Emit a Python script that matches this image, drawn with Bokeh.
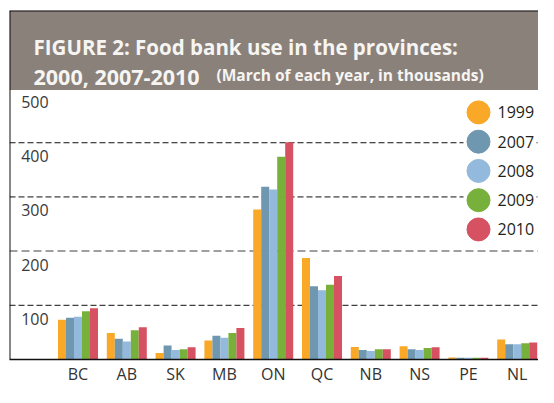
from bokeh.plotting import figure
from bokeh.models import (Range1d, ColumnDataSource, Span, BoxAnnotation, Label,
                          FixedTicker)
from bokeh.transform import dodge
from bokeh.core.properties import value
from bokeh.embed import file_html
from bokeh.resources import INLINE

# ---------------- data (thousands of people, March of each year) ----------------
provinces = ["BC", "AB", "SK", "MB", "ON", "QC", "NB", "NS", "PE", "NL"]
years = ["1999", "2007", "2008", "2009", "2010"]
v1999 = [73.5, 49.0, 12.0, 35.0, 277.0, 187.5, 23.0, 24.5, 3.5, 37.0]
v2007 = [77.0, 38.5, 26.0, 44.0, 319.0, 135.0, 17.5, 19.0, 3.0, 28.0]
v2008 = [79.0, 33.0, 17.5, 40.0, 313.5, 128.0, 15.8, 17.5, 3.0, 28.0]
v2009 = [89.0, 54.0, 19.0, 49.0, 374.0, 138.0, 19.0, 21.0, 3.0, 30.0]
v2010 = [94.5, 59.5, 22.8, 58.0, 401.0, 154.0, 19.0, 22.8, 3.0, 31.5]
series = [v1999, v2007, v2008, v2009, v2010]
colors = ["#f9a828", "#6f97b0", "#93b9dd", "#78b03c", "#d65262"]
y_ticks = [100, 200, 300, 400, 500]
y_tick_labels = ["100", "200", "300", "400", "500"]

title_line1 = "FIGURE 2: Food bank use in the provinces:"
title_line2a = "2000, 2007-2010"
title_line2b = "(March of each year, in thousands)"

# ---------------- layout (canvas pixels -> data units) ----------------
W, H = 538, 387
B_L, B_T, B_B = 9, 10, 26
FRAME_BOTTOM = H - B_B
PITCH = 48.8            # px per category
PX_PER_UNIT = 0.545     # px per thousand
X0 = -(77.5 - B_L) / PITCH


def dx(cx):
    return X0 + (cx - B_L) / PITCH


def dy(cy):
    return (FRAME_BOTTOM - cy) / PX_PER_UNIT


X1 = dx(W)
Y1 = dy(B_T)

p = figure(width=W, height=H,
           x_range=Range1d(X0, X1),
           y_range=Range1d(0, Y1),
           output_backend="svg", toolbar_location=None,
           y_axis_location=None,
           min_border_left=B_L, min_border_right=0,
           min_border_top=B_T, min_border_bottom=B_B)
p.outline_line_color = None
p.grid.grid_line_color = None
p.background_fill_color = "white"
p.border_fill_color = "white"

# gridlines
for t in y_ticks[:-1]:
    if t == 200:
        s = Span(location=t, dimension="width", line_color="#808080",
                 line_width=1.5, line_dash="8 4", level="underlay")
    else:
        s = Span(location=t, dimension="width", line_color="#111111",
                 line_width=1, line_dash="6 3", level="underlay")
    p.add_layout(s)

# legend rows (data units) and white backing that interrupts the dashed lines
leg_rows = [456 - 54 * i for i in range(len(years))]
p.add_layout(BoxAnnotation(left=dx(463), right=dx(536),
                           top=leg_rows[0] + 25, bottom=leg_rows[-1] - 25,
                           fill_color="white", fill_alpha=1.0, line_color=None,
                           level="underlay"))

# bars
src = ColumnDataSource(dict(x=list(range(len(provinces))),
                            **{"v" + yr: vals for yr, vals in zip(years, series)}))
bar_w = 8 / PITCH
for j, (yr, c) in enumerate(zip(years, colors)):
    p.vbar(x=dodge("x", (j - 2) * bar_w, range=p.x_range), top="v" + yr,
           width=bar_w, source=src, fill_color=c, line_color=None)

# y tick labels (inside the plot, under each gridline)
p.text(x=[X0] * len(y_ticks), y=y_ticks, text=y_tick_labels,
       x_offset=11.7, y_offset=13.5, text_baseline="middle", text_align="left",
       text_font=value("Open Sans"), text_font_size="16px", text_color="#3a3a3a")

# legend (circles + labels)
p.scatter(x=[dx(478)] * len(years), y=leg_rows, size=23, marker="circle",
          fill_color=colors, line_color=colors)
p.text(x=[dx(497)] * len(years), y=leg_rows, text=years,
       text_baseline="middle", text_align="left",
       text_font=value("Open Sans"), text_font_size="16px", text_color="#231f20")

# x axis
p.xaxis.ticker = FixedTicker(ticks=list(range(len(provinces))))
p.xaxis.major_label_overrides = {i: prov for i, prov in enumerate(provinces)}
p.xaxis.major_tick_line_color = None
p.xaxis.major_tick_out = 0
p.xaxis.minor_tick_line_color = None
p.xaxis.axis_line_color = "#111111"
p.xaxis.axis_line_width = 1.5
p.xaxis.major_label_standoff = 3
p.xaxis.major_label_text_font = "Open Sans"
p.xaxis.major_label_text_font_size = "16px"
p.xaxis.major_label_text_color = "#333333"

# title box (explicit edges so it stays inside the frame)
p.add_layout(BoxAnnotation(left=X0, right=X1, top=Y1, bottom=dy(90),
                           fill_color="#8a817b", fill_alpha=1.0, line_color=None))
p.add_layout(Span(location=Y1, dimension="width",
                  line_color="#111111", line_width=2))
p.add_layout(Span(location=X0, dimension="height",
                  line_color="#111111", line_width=2))

p.add_layout(Label(x=dx(33), y=dy(46.7), text=title_line1, text_font="Open Sans",
                   text_font_style="bold", text_font_size="20.5px",
                   text_color="#f7f5f2", text_baseline="alphabetic"))
p.add_layout(Label(x=dx(33), y=dy(76), text=title_line2a, text_font="Open Sans",
                   text_font_style="bold", text_font_size="21.5px",
                   text_color="#f7f5f2", text_baseline="alphabetic"))
p.add_layout(Label(x=dx(216), y=dy(75), text=title_line2b, text_font="Open Sans",
                   text_font_style="bold", text_font_size="15.5px",
                   text_color="#f7f5f2", text_baseline="alphabetic"))

open("out.html", "w").write(file_html(p, INLINE))
